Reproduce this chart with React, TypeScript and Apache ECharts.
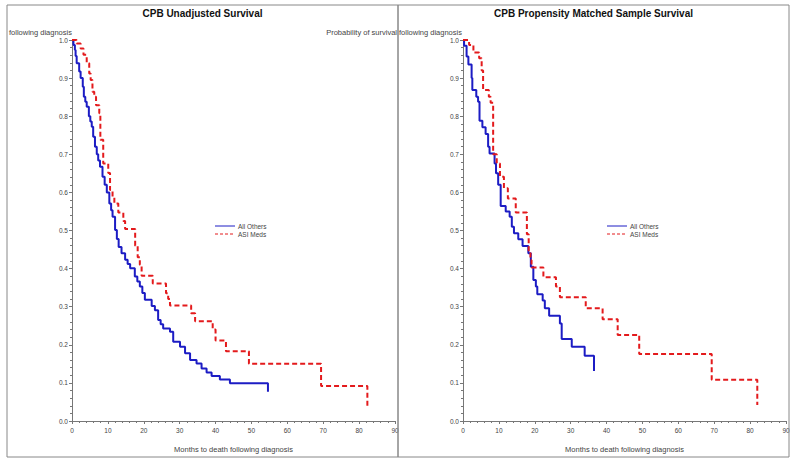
import React, { useEffect, useRef } from "react";
import * as echarts from "echarts";

const seriesNames = ["All Others", "ASI Meds"];
const panelTitles = ["CPB Unadjusted Survival", "CPB Propensity Matched Sample Survival"];
const xAxisTitle = "Months to death following diagnosis";
const yTitleHead = "Probability of survival";
const yTitleTail = "following diagnosis";
const yTicks = [0, 0.1, 0.2, 0.3, 0.4, 0.5, 0.6, 0.7, 0.8, 0.9, 1.0];
const xTicks = [0, 10, 20, 30, 40, 50, 60, 70, 80, 90];

// [months, survival probability]
const unadjustedOthers = [
  [0, 1.0], [0.4, 0.987], [0.8, 0.974], [1.0, 0.958], [1.3, 0.939], [2.0, 0.917], [2.4, 0.9],
  [3.0, 0.877], [3.3, 0.851], [3.7, 0.838], [4.1, 0.825], [4.7, 0.8], [5.1, 0.786], [5.5, 0.772],
  [5.9, 0.746], [6.4, 0.72], [6.9, 0.7], [7.3, 0.684], [7.8, 0.667], [8.5, 0.641], [9.1, 0.62],
  [9.7, 0.6], [10.4, 0.571], [10.9, 0.553], [11.3, 0.536], [12.0, 0.501], [12.5, 0.478],
  [13.0, 0.457], [13.8, 0.44], [14.8, 0.423], [15.5, 0.412], [16.2, 0.401], [17.5, 0.379],
  [18.2, 0.366], [18.9, 0.353], [19.6, 0.336], [20.3, 0.318], [22.2, 0.302], [23.1, 0.291],
  [24.0, 0.265], [24.7, 0.254], [25.4, 0.243], [27.3, 0.234], [28.2, 0.208], [30.1, 0.195],
  [31.5, 0.178], [32.9, 0.16], [34.7, 0.151], [36.1, 0.138], [37.5, 0.127], [38.9, 0.118],
  [41.2, 0.109], [44.0, 0.099], [54.6, 0.077],
];
const unadjustedAsi = [
  [0, 1.0], [1.3, 0.991], [2.4, 0.978], [3.2, 0.961], [4.1, 0.939], [4.8, 0.912], [5.2, 0.895],
  [5.7, 0.864], [6.2, 0.851], [6.7, 0.829], [7.6, 0.808], [7.9, 0.738], [8.7, 0.676],
  [10.1, 0.651], [10.6, 0.606], [11.3, 0.589], [11.8, 0.571], [12.9, 0.547], [14.3, 0.525],
  [14.8, 0.504], [17.6, 0.46], [18.3, 0.43], [18.9, 0.41], [19.4, 0.381], [22.5, 0.361],
  [26.2, 0.335], [26.8, 0.32], [27.3, 0.303], [33.2, 0.283], [34.3, 0.262], [39.2, 0.24],
  [40.0, 0.211], [42.9, 0.183], [49.3, 0.15], [69.4, 0.092], [82.3, 0.033],
];
const matchedOthers = [
  [0, 1.0], [0.3, 0.985], [1.0, 0.957], [1.5, 0.936], [2.4, 0.9], [2.6, 0.869], [3.7, 0.851],
  [4.2, 0.838], [4.6, 0.788], [5.4, 0.771], [6.3, 0.753], [7.0, 0.72], [7.4, 0.702],
  [8.8, 0.676], [9.2, 0.65], [9.8, 0.62], [10.5, 0.564], [11.9, 0.55], [13.0, 0.536],
  [13.6, 0.51], [14.2, 0.493], [15.4, 0.477], [16.6, 0.459], [18.2, 0.44], [18.9, 0.405],
  [19.6, 0.37], [20.3, 0.353], [20.7, 0.333], [22.2, 0.316], [22.8, 0.296], [24.0, 0.276],
  [27.0, 0.256], [27.5, 0.215], [30.3, 0.195], [33.9, 0.171], [36.5, 0.131],
];
const matchedAsi = [
  [0, 1.0], [1.7, 0.987], [2.9, 0.967], [4.5, 0.952], [5.2, 0.92], [5.6, 0.869], [7.2, 0.851],
  [7.7, 0.835], [8.4, 0.7], [9.4, 0.676], [10.3, 0.641], [11.4, 0.611], [12.5, 0.584],
  [14.7, 0.547], [17.8, 0.49], [18.3, 0.444], [18.8, 0.422], [19.1, 0.403], [22.4, 0.377],
  [25.9, 0.353], [27.0, 0.325], [34.2, 0.296], [38.9, 0.267], [43.1, 0.226], [49.1, 0.176],
  [69.3, 0.108], [82.0, 0.042],
];

const BLUE = "#1c1cc4";
const RED = "#e31a1c";
const FONT = "'Liberation Sans', Arial, sans-serif";
const LABEL_COLOR = "#444";
const AXIS_COLOR = "#777";

export default function App() {
  const ref = useRef<HTMLDivElement>(null);

  useEffect(() => {
    if (!ref.current) return;
    const chart = echarts.init(ref.current, null, { renderer: "svg" });

    const grids = [
      { left: 72, top: 40, width: 323, height: 381 },
      { left: 463, top: 40, width: 323, height: 381 },
    ];

    const xAxis = grids.map((_, i) => ({
      type: "value",
      gridIndex: i,
      min: xTicks[0],
      max: xTicks[xTicks.length - 1],
      interval: 10,
      name: xAxisTitle,
      nameLocation: "middle",
      nameGap: 24,
      nameTextStyle: { fontSize: 7.5, color: LABEL_COLOR, fontFamily: FONT },
      axisLine: { show: true, onZero: false, lineStyle: { color: AXIS_COLOR, width: 1 } },
      axisTick: { show: true, length: 3, lineStyle: { color: AXIS_COLOR } },
      minorTick: { show: true, splitNumber: 5, length: 2, lineStyle: { color: AXIS_COLOR } },
      axisLabel: { fontSize: 6.5, color: LABEL_COLOR, fontFamily: FONT, margin: 6 },
      splitLine: { show: false },
    }));

    const yAxis = grids.map((_, i) => ({
      type: "value",
      gridIndex: i,
      min: yTicks[0],
      max: yTicks[yTicks.length - 1],
      interval: 0.1,
      axisLine: { show: true, onZero: false, lineStyle: { color: AXIS_COLOR, width: 1 } },
      axisTick: { show: true, length: 3, lineStyle: { color: AXIS_COLOR } },
      minorTick: { show: true, splitNumber: 5, length: 2, lineStyle: { color: AXIS_COLOR } },
      axisLabel: {
        fontSize: 6.5,
        color: LABEL_COLOR,
        fontFamily: FONT,
        margin: 4,
        formatter: (v: number) => v.toFixed(1),
      },
      splitLine: { show: false },
    }));

    const panels = [
      [unadjustedOthers, unadjustedAsi],
      [matchedOthers, matchedAsi],
    ];

    const series: any[] = [];
    panels.forEach((pair, i) => {
      series.push({
        type: "line",
        name: seriesNames[0],
        xAxisIndex: i,
        yAxisIndex: i,
        step: "end",
        data: pair[0],
        symbol: "none",
        showSymbol: false,
        lineStyle: { color: BLUE, width: 2 },
        itemStyle: { color: BLUE },
        z: 3,
      });
      series.push({
        type: "line",
        name: seriesNames[1],
        xAxisIndex: i,
        yAxisIndex: i,
        step: "end",
        data: pair[1],
        symbol: "none",
        showSymbol: false,
        lineStyle: { color: RED, width: 2, type: [5, 3] },
        itemStyle: { color: RED },
        z: 4,
      });
    });

    const boxes = [
      { x: 7, y: 5, w: 391, h: 452 },
      { x: 398, y: 5, w: 391, h: 452 },
    ];
    const legendLeft = [215, 607];
    const legendRows = [226, 234];
    const legendColors = [BLUE, RED];

    const graphic: any[] = [];
    graphic.push({
      type: "text",
      x: 9,
      y: 32,
      style: {
        text: yTitleTail,
        fontSize: 7.5,
        fill: LABEL_COLOR,
        fontFamily: FONT,
        align: "left",
        verticalAlign: "middle",
      },
    });
    graphic.push({
      type: "text",
      x: 397,
      y: 32,
      style: {
        text: yTitleHead,
        fontSize: 7.5,
        fill: LABEL_COLOR,
        fontFamily: FONT,
        align: "right",
        verticalAlign: "middle",
      },
    });
    graphic.push({
      type: "text",
      x: 399,
      y: 32,
      style: {
        text: yTitleTail,
        fontSize: 7.5,
        fill: LABEL_COLOR,
        fontFamily: FONT,
        align: "left",
        verticalAlign: "middle",
      },
    });
    legendLeft.forEach((lx) => {
      seriesNames.forEach((name, k) => {
        graphic.push({
          type: "line",
          shape: { x1: lx, y1: legendRows[k], x2: lx + 20, y2: legendRows[k] },
          style: {
            stroke: legendColors[k],
            lineWidth: 1,
            lineDash: k === 1 ? [3, 2] : null,
          },
        });
        graphic.push({
          type: "text",
          x: lx + 23,
          y: legendRows[k],
          style: {
            text: name,
            fontSize: 6.5,
            fill: LABEL_COLOR,
            fontFamily: FONT,
            align: "left",
            verticalAlign: "middle",
          },
        });
      });
    });
    boxes.forEach((b, i) => {
      graphic.push({
        type: "rect",
        shape: { x: b.x, y: b.y, width: b.w, height: b.h },
        style: { fill: "none", stroke: "#888", lineWidth: 1 },
        z: 10,
      });
      graphic.push({
        type: "text",
        x: b.x + b.w / 2,
        y: 13,
        style: {
          text: panelTitles[i],
          fontSize: 10,
          fontWeight: "bold",
          fill: "#111",
          fontFamily: FONT,
          align: "center",
          verticalAlign: "middle",
        },
      });
    });

    chart.setOption({
      animation: false,
      backgroundColor: "#fff",
      grid: grids,
      xAxis,
      yAxis,
      series,
      graphic,
    });

    return () => chart.dispose();
  }, []);

  return (
    <div
      ref={ref}
      style={{ position: "fixed", left: 0, top: 0, width: 800, height: 465, background: "#fff" }}
    />
  );
}
